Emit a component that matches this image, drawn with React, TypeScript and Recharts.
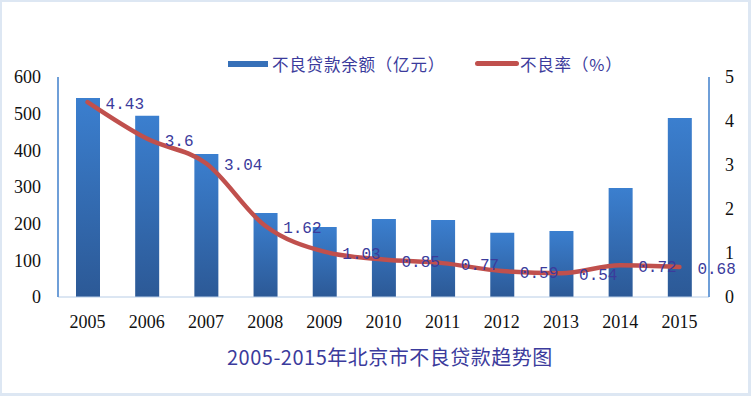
import React from "react";
import {
  ComposedChart,
  Bar,
  Line,
  XAxis,
  YAxis,
  LabelList,
} from "recharts";

const years = ["2005", "2006", "2007", "2008", "2009", "2010", "2011", "2012", "2013", "2014", "2015"];
const npl = [543, 494, 390, 229, 191, 213, 210, 175, 180, 297, 488];
const nplRatio = [4.43, 3.6, 3.04, 1.62, 1.03, 0.85, 0.77, 0.59, 0.54, 0.72, 0.68];
const leftTicks = [0, 100, 200, 300, 400, 500, 600];
const rightTicks = [0, 1, 2, 3, 4, 5];
const barName = "不良贷款余额（亿元）";
const lineName = "不良率（%）";
const title = "2005-2015年北京市不良贷款趋势图";

const data = years.map((y, i) => ({ year: y, npl: npl[i], ratio: nplRatio[i] }));

const TEXT_BLUE = "#3b3b9c";

const RatioLabel = (props: any) => {
  const { x, y, value } = props;
  return (
    <text
      x={x + 18}
      y={y + 7}
      fill={TEXT_BLUE}
      fontSize={16}
      fontFamily="'Liberation Mono', monospace"
    >
      {String(value)}
    </text>
  );
};

export default function App() {
  return (
    <div
      style={{
        position: "fixed",
        left: 0,
        top: 0,
        width: 751,
        height: 396,
        boxSizing: "border-box",
        borderLeft: "2px solid #dde7f3",
        borderTop: "2px solid #dde7f3",
        borderRight: "3px solid #dde7f3",
        borderBottom: "3px solid #dde7f3",
        background: "#fff",
        overflow: "hidden",
      }}
    >
      <div style={{ position: "absolute", left: -2, top: -2 }}>
        <ComposedChart
          width={751}
          height={396}
          data={data}
          margin={{ top: 77, right: 0, bottom: 69, left: 0 }}
          barCategoryGap={0}
        >
          <defs>
            <linearGradient id="barGrad" x1="0" y1="0" x2="0" y2="1">
              <stop offset="0%" stopColor="#3b7fcf" />
              <stop offset="100%" stopColor="#2c5996" />
            </linearGradient>
          </defs>
          <XAxis
            dataKey="year"
            axisLine={{ stroke: "#b8cde6", strokeWidth: 1 }}
            tickLine={false}
            tick={{ fill: "#111", fontSize: 18, fontFamily: "'Liberation Serif', serif" }}
            tickMargin={12}
            height={30}
            interval={0}
          />
          <YAxis
            yAxisId="left"
            domain={[0, 600]}
            ticks={leftTicks}
            axisLine={{ stroke: "#6f9fd8", strokeWidth: 2 }}
            tickLine={false}
            tick={{ fill: "#111", fontSize: 18, fontFamily: "'Liberation Serif', serif" }}
            tickMargin={11}
            width={58}
            interval={0}
          />
          <YAxis
            yAxisId="right"
            orientation="right"
            domain={[0, 5]}
            ticks={rightTicks}
            axisLine={{ stroke: "#6f9fd8", strokeWidth: 2 }}
            tickLine={false}
            tick={{ fill: "#111", fontSize: 18, fontFamily: "'Liberation Serif', serif" }}
            tickMargin={10}
            width={42}
            interval={0}
          />
          <Bar
            yAxisId="left"
            dataKey="npl"
            name={barName}
            fill="url(#barGrad)"
            barSize={24}
            isAnimationActive={false}
          />
          <Line
            yAxisId="right"
            dataKey="ratio"
            name={lineName}
            type="monotone"
            stroke="#c0504d"
            strokeWidth={4.5}
            strokeLinecap="round"
            dot={false}
            activeDot={false}
            isAnimationActive={false}
          >
            <LabelList dataKey="ratio" content={<RatioLabel />} />
          </Line>
        </ComposedChart>
      </div>
      <div
        style={{
          position: "absolute",
          left: -2,
          top: 50,
          width: 751,
          height: 24,
          fontFamily: "'Noto Sans CJK SC', sans-serif",
          fontSize: 16.5,
          letterSpacing: 0.8,
          color: TEXT_BLUE,
        }}
      >
        <div style={{ position: "absolute", left: 228, top: 9, width: 40, height: 6, background: "#3670b8" }} />
        <div style={{ position: "absolute", left: 272, top: 0, lineHeight: "24px", whiteSpace: "nowrap" }}>{barName}</div>
        <div style={{ position: "absolute", left: 475, top: 9, width: 44, height: 5, borderRadius: 3, background: "#c0504d" }} />
        <div style={{ position: "absolute", left: 520, top: 0, lineHeight: "24px", whiteSpace: "nowrap" }}>{lineName}</div>
      </div>
      <div
        style={{
          position: "absolute",
          left: 225,
          top: 342,
          whiteSpace: "nowrap",
          fontFamily: "'Noto Sans CJK SC', sans-serif",
          fontSize: 20,
          letterSpacing: 0.5,
          color: TEXT_BLUE,
          lineHeight: "26px",
        }}
      >
        {title}
      </div>
    </div>
  );
}
